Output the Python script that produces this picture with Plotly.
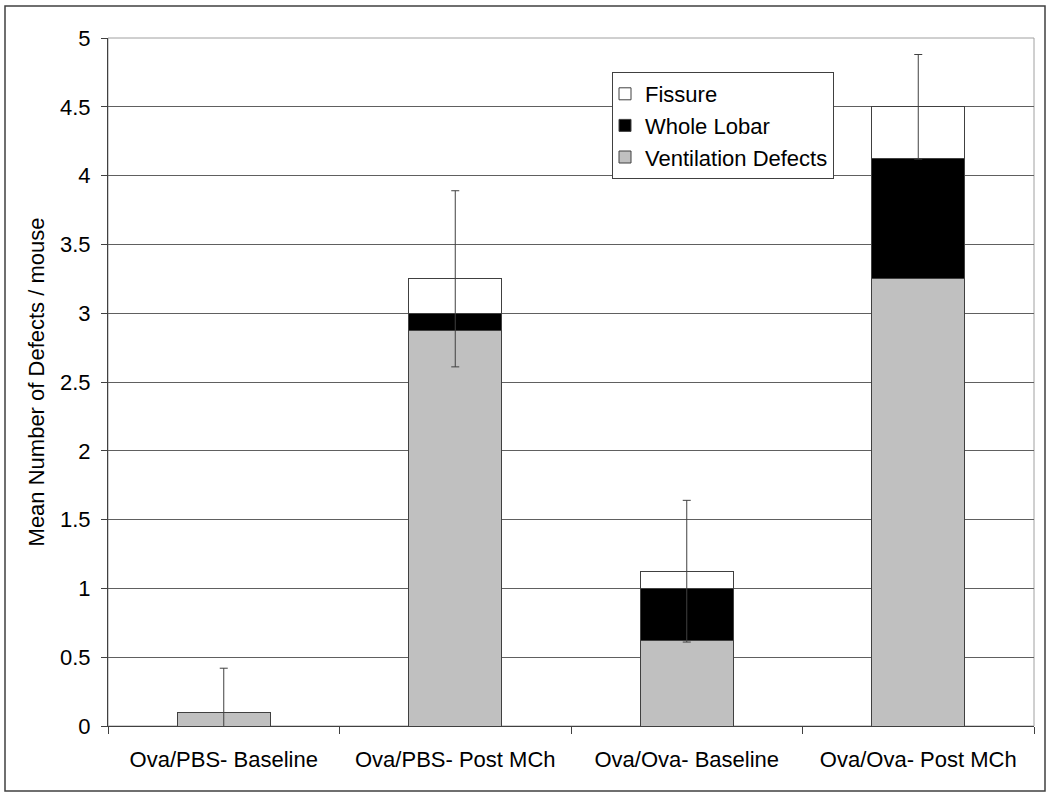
import plotly.graph_objects as go

categories = ["Ova/PBS- Baseline", "Ova/PBS- Post MCh", "Ova/Ova- Baseline", "Ova/Ova- Post MCh"]
ventilation = [0.1, 2.875, 0.625, 3.25]
whole_lobar = [0.0, 0.125, 0.375, 0.875]
fissure = [0.0, 0.25, 0.125, 0.375]
error = [0.32, 0.64, 0.515, 0.38]

totals = [v + w + f for v, w, f in zip(ventilation, whole_lobar, fissure)]

font = "Liberation Sans, Arial, sans-serif"
line_col = "#404040"

fig = go.Figure()
fig.add_trace(go.Bar(x=categories, y=ventilation, name="Ventilation Defects",
                     marker=dict(color="#C0C0C0", line=dict(color=line_col, width=1))))
fig.add_trace(go.Bar(x=categories, y=whole_lobar, name="Whole Lobar",
                     marker=dict(color="#000000", line=dict(color=line_col, width=1))))
fig.add_trace(go.Bar(x=categories, y=fissure, name="Fissure",
                     marker=dict(color="#FFFFFF", line=dict(color=line_col, width=1))))
fig.add_trace(go.Scatter(x=categories, y=totals, mode="markers",
                         marker=dict(size=1, opacity=0), showlegend=False, hoverinfo="skip",
                         error_y=dict(type="data", array=error, visible=True,
                                      color=line_col, thickness=1, width=4)))

W, H = 1050, 802
l, r, t, b = 108, 16, 38, 76
pw, ph = W - l - r, H - t - b

def px_x(p):
    return (p - l) / pw

def px_y(p):
    return (H - b - p) / ph

fig.update_layout(
    width=W, height=H,
    margin=dict(l=l, r=r, t=t, b=b),
    barmode="stack", bargap=0.6,
    plot_bgcolor="white", paper_bgcolor="white",
    font=dict(family=font, size=22, color="black"),
    legend=dict(x=px_x(612), y=px_y(72), xanchor="left", yanchor="top",
                traceorder="reversed", bgcolor="white", bordercolor=line_col, borderwidth=1,
                font=dict(size=22), tracegroupgap=0, indentation=-8),
    xaxis=dict(type="category", showline=True, linecolor=line_col, linewidth=1,
               ticks="outside", tickson="boundaries", ticklen=7, tickcolor=line_col,
               showgrid=False, tickfont=dict(size=22), ticklabelstandoff=14),
    yaxis=dict(range=[0, 5], dtick=0.5, showline=True, linecolor=line_col, linewidth=1,
               ticks="outside", ticklen=6, tickcolor=line_col,
               showgrid=True, gridcolor="#606060", gridwidth=1, zeroline=False,
               tickfont=dict(size=22), ticklabelstandoff=6,
               title=dict(text="Mean Number of Defects / mouse", font=dict(size=22), standoff=9)),
    shapes=[
        dict(type="rect", xref="paper", yref="paper", x0=0, x1=1, y0=0, y1=1,
             line=dict(color="#A0A0A0", width=1), layer="below"),
        dict(type="rect", xref="paper", yref="paper",
             x0=px_x(5), x1=px_x(1045), y0=px_y(791), y1=px_y(6),
             line=dict(color="#404040", width=1.5)),
    ],
)

fig.write_html("out.html", config={"displayModeBar": False},
               post_script="document.body.style.margin='0px';")
